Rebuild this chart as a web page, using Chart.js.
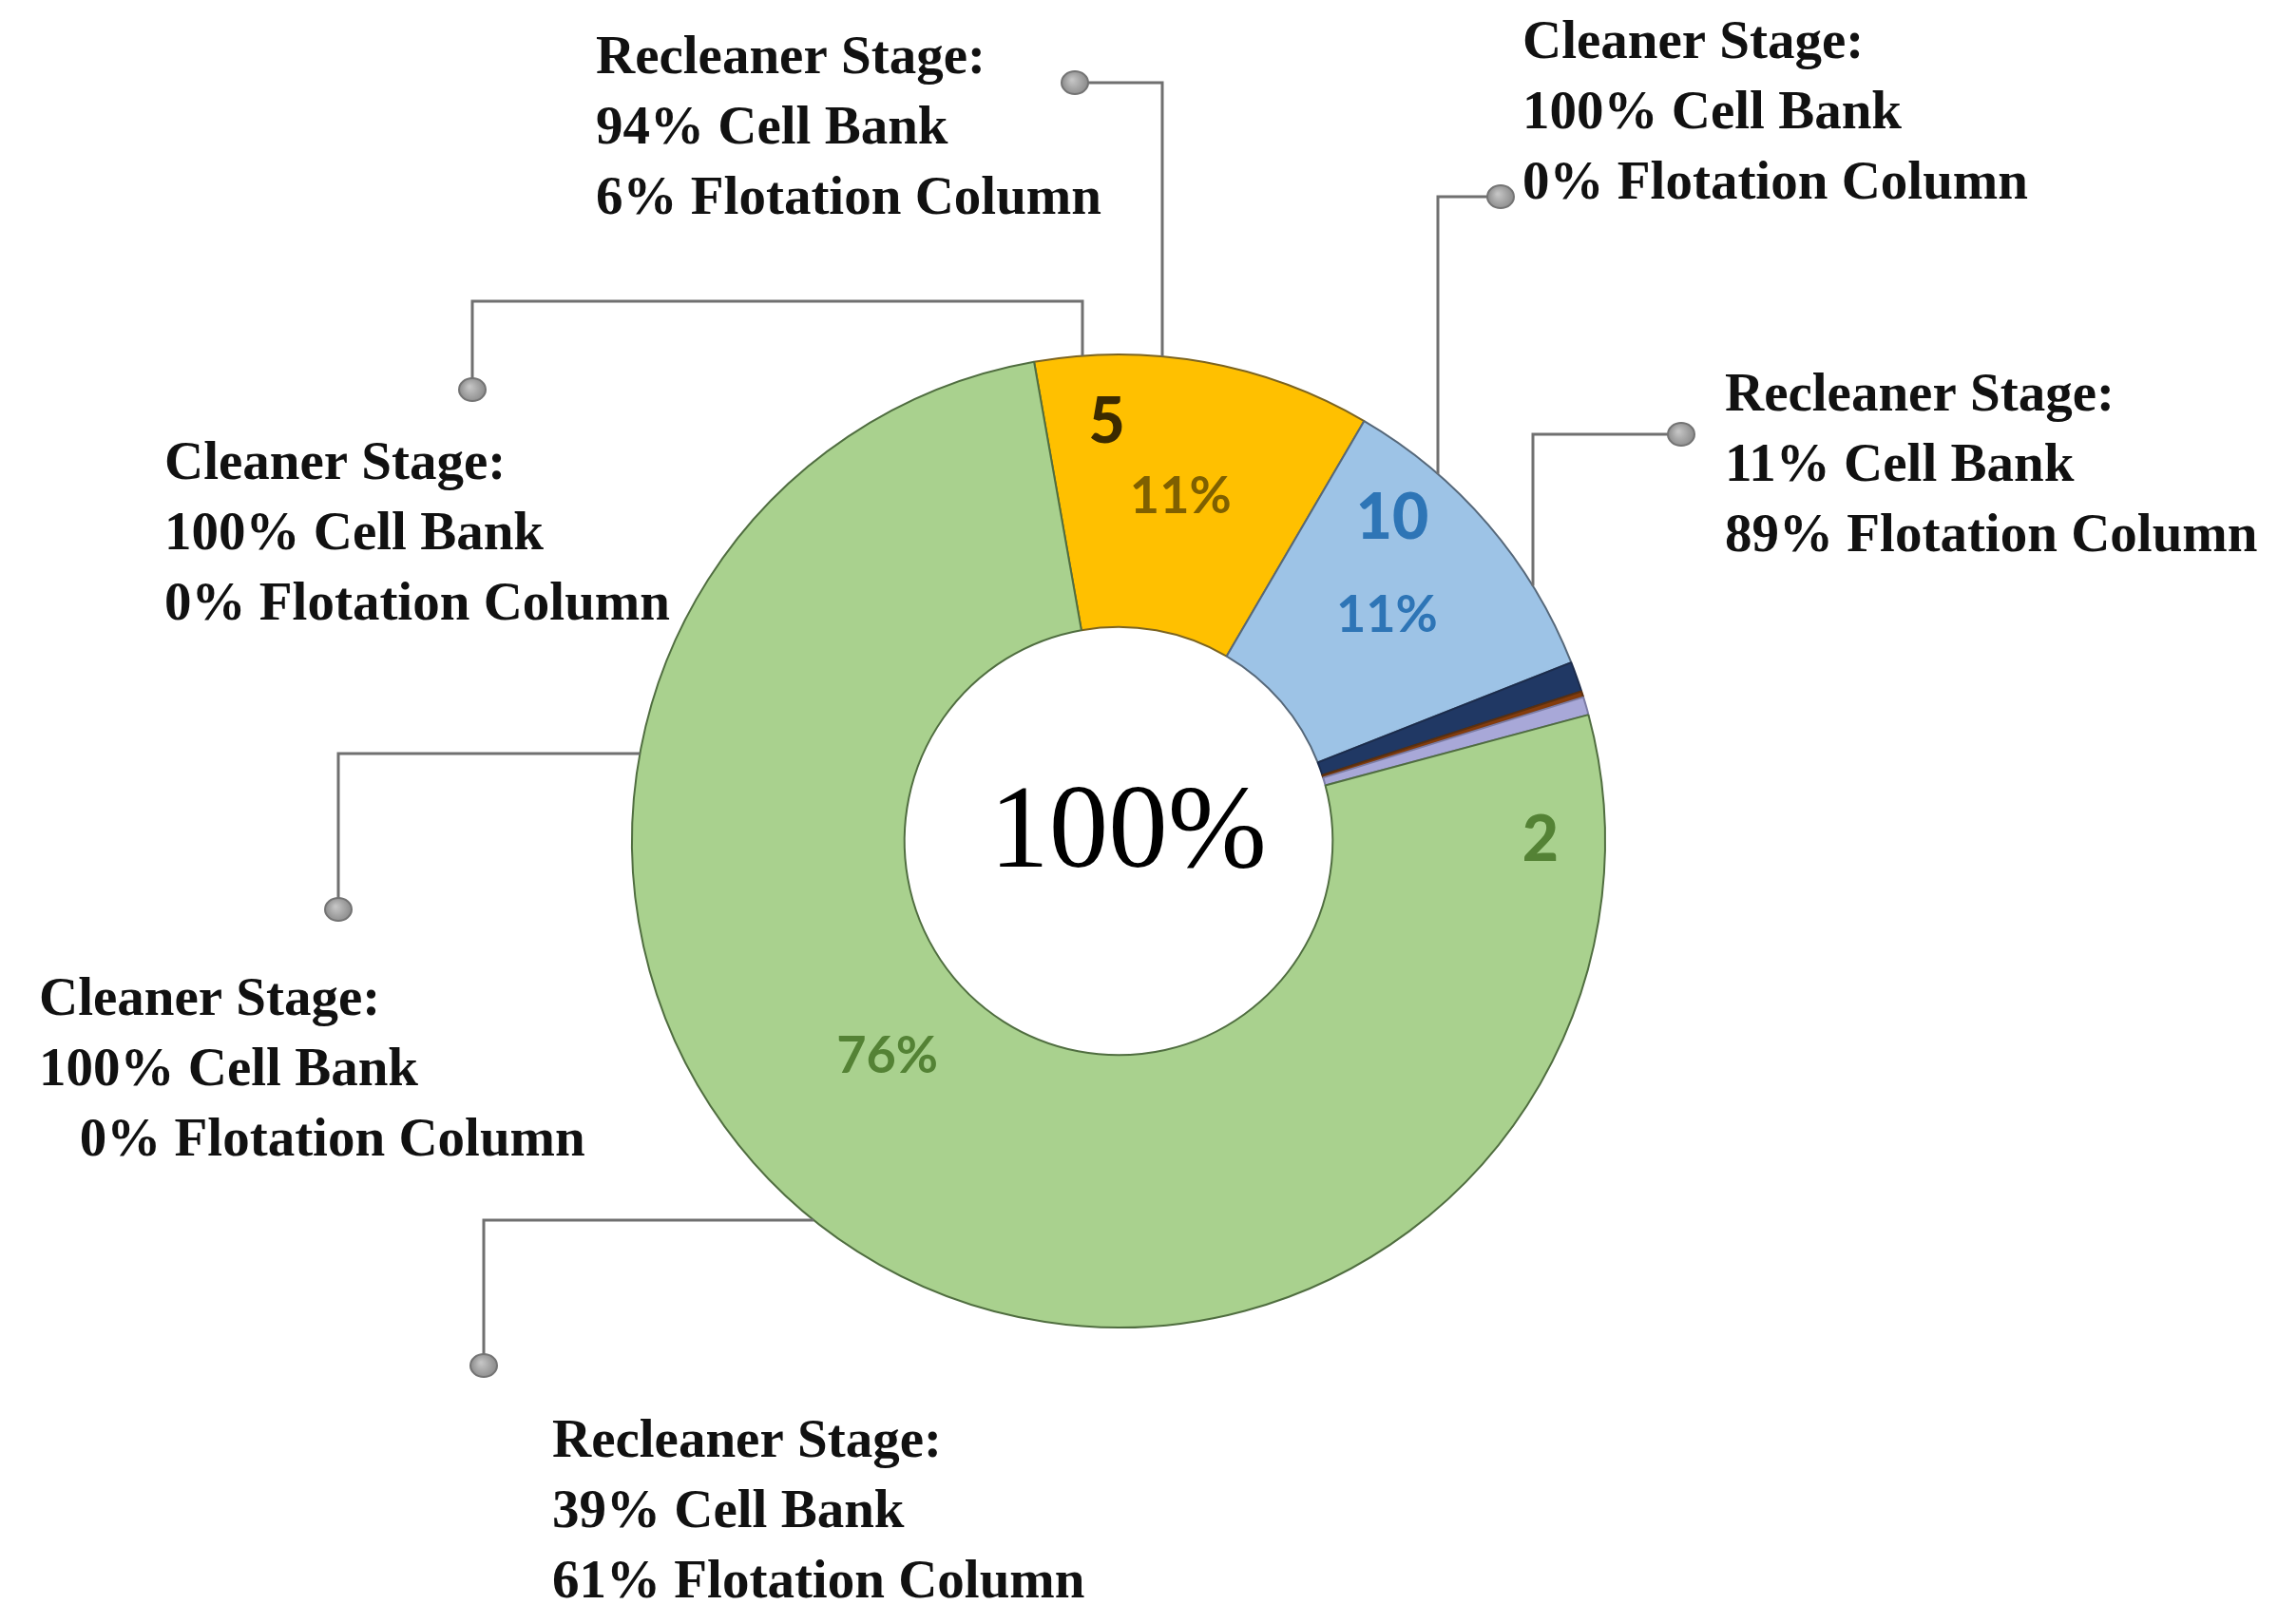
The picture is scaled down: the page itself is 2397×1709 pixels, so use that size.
<!DOCTYPE html>
<html>
<head>
<meta charset="utf-8">
<script src="https://cdn.jsdelivr.net/npm/chart.js"></script>
<style>
    html, body { margin: 0; padding: 0; background: #ffffff; overflow: hidden; }
    #wrap { position: relative; width: 2397px; height: 1709px; }
</style>
</head>
<body>
<div id="wrap"><canvas id="stageChart" width="2397" height="1709"></canvas></div>
<script>
// slice data, clockwise from the top
const sliceLabels = ["5", "10", "", "", "", "2"];
const sliceValues = [11.2, 10.6, 1.0, 0.2, 0.6, 76.4];
const sliceColors = ["#FFC000", "#9DC3E6", "#203864", "#843C0C", "#A8A8D8", "#A9D18E"];
const sliceBorders = ["#7C6420", "#56687A", "#1C2C4C", "#5A3010", "#7C7CA4", "#506E40"];
const centerText = "100%";

// slice text colours: [name, percent]
const labelColors = [["#3B2A00", "#7F6000"], ["#2E75B6", "#2E75B6"], null, null, null, ["#548235", "#548235"]];

// where the in-ring texts sit: angle (deg, clockwise from top), radius as share of outer radius
const nameSpots = { 0: [-1.6, 0.86], 1: [40.3, 0.87], 5: [90, 0.867] };
const pctSpots = { 0: [10.2, 0.72], 1: [50, 0.72], 5: [227, 0.65] };

// callout text blocks
const callouts = [
    { lines: ["Recleaner Stage:", "94% Cell Bank", "6% Flotation Column"], x: 627, y: 62 },
    { lines: ["Cleaner Stage:", "100% Cell Bank", "0% Flotation Column"], x: 1602, y: 46 },
    { lines: ["Recleaner Stage:", "11% Cell Bank", "89% Flotation Column"], x: 1815, y: 417 },
    { lines: ["Cleaner Stage:", "100% Cell Bank", "0% Flotation Column"], x: 173, y: 489 },
    { lines: ["Cleaner Stage:", "100% Cell Bank", "   0% Flotation Column"], x: 41, y: 1053 },
    { lines: ["Recleaner Stage:", "39% Cell Bank", "61% Flotation Column"], x: 581, y: 1518 }
];

// leader lines: dot, elbow points, then a last leg that runs to the ring ("v" = vertical, "h" = horizontal)
const leaders = [
    { pts: [[1131, 87], [1223, 87]], to: "v" },
    { pts: [[497, 410], [497, 317], [1139, 317]], to: "v" },
    { pts: [[1579, 207], [1513, 207]], to: "v" },
    { pts: [[1769, 457], [1613, 457]], to: "v" },
    { pts: [[356, 957], [356, 793]], to: "h" },
    { pts: [[509, 1437], [509, 1284]], to: "h" }
];

const overlay = {
    id: "overlay",
    afterDraw(chart) {
        const ctx = chart.ctx;
        const meta = chart.getDatasetMeta(0);
        const a0 = meta.data[0];
        const cx = a0.x, cy = a0.y, R = a0.outerRadius;
        const total = sliceValues.reduce((s, v) => s + v, 0);
        const at = (deg, f) => {
            const t = deg * Math.PI / 180;
            return [cx + f * R * Math.sin(t), cy - f * R * Math.cos(t)];
        };

        ctx.save();

        // centre text
        ctx.fillStyle = "#000";
        ctx.font = "125px 'Liberation Serif'";
        ctx.textAlign = "center";
        ctx.textBaseline = "middle";
        ctx.fillText(centerText, cx + 10, cy - 6);

        // slice names and shares
        Object.keys(nameSpots).forEach(i => {
            const p = at(nameSpots[i][0], nameSpots[i][1]);
            ctx.font = "900 66px Lato";
            ctx.fillStyle = labelColors[i][0];
            ctx.fillText(sliceLabels[i], p[0], p[1]);
        });
        Object.keys(pctSpots).forEach(i => {
            const p = at(pctSpots[i][0], pctSpots[i][1]);
            ctx.font = "bold 54px Lato";
            ctx.fillStyle = labelColors[i][1];
            ctx.fillText(Math.round(sliceValues[i] / total * 100) + "%", p[0], p[1]);
        });

        // leaders
        ctx.strokeStyle = "#707070";
        ctx.lineWidth = 3;
        leaders.forEach(l => {
            const last = l.pts[l.pts.length - 1];
            let end;
            if (l.to === "v") {
                const dx = last[0] - cx;
                end = [last[0], cy - Math.sqrt(R * R - dx * dx)];
            } else {
                const dy = last[1] - cy;
                end = [cx - Math.sqrt(R * R - dy * dy), last[1]];
            }
            ctx.beginPath();
            ctx.moveTo(l.pts[0][0], l.pts[0][1]);
            l.pts.slice(1).forEach(p => ctx.lineTo(p[0], p[1]));
            ctx.lineTo(end[0], end[1]);
            ctx.stroke();
        });
        leaders.forEach(l => {
            const d = l.pts[0];
            const g = ctx.createRadialGradient(d[0] - 3, d[1] - 3, 1, d[0], d[1], 14);
            g.addColorStop(0, "#C4C4C4");
            g.addColorStop(1, "#8A8A8A");
            ctx.beginPath();
            ctx.ellipse(d[0], d[1], 14, 12, 0, 0, Math.PI * 2);
            ctx.fillStyle = g;
            ctx.fill();
            ctx.lineWidth = 2;
            ctx.strokeStyle = "#747474";
            ctx.stroke();
        });

        // callout texts
        ctx.fillStyle = "#111";
        ctx.font = "bold 57px 'Liberation Serif'";
        ctx.textAlign = "left";
        ctx.textBaseline = "middle";
        callouts.forEach(c => {
            c.lines.forEach((t, k) => ctx.fillText(t, c.x, c.y + k * 74));
        });

        ctx.restore();
    }
};

new Chart(document.getElementById("stageChart"), {
    type: "doughnut",
    data: {
        labels: sliceLabels,
        datasets: [{
            data: sliceValues,
            backgroundColor: sliceColors,
            borderColor: sliceBorders,
            borderWidth: 2
        }]
    },
    options: {
        responsive: false,
        animation: false,
        rotation: -10,
        cutout: "44%",
        layout: { padding: { left: 664, right: 707, top: 372, bottom: 311 } },
        plugins: {
            legend: { display: false },
            tooltip: { enabled: false }
        }
    },
    plugins: [overlay]
});
</script>
</body>
</html>
